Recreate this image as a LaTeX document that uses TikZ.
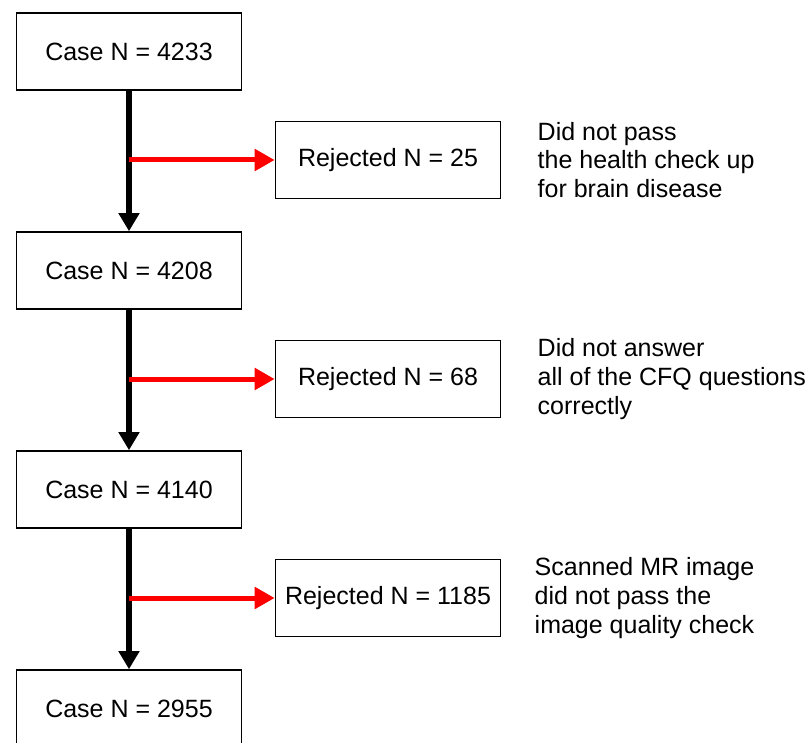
\documentclass[tikz,border=0pt]{standalone}
\usepackage{fontspec}
\setmainfont{Liberation Sans}
\usetikzlibrary{arrows.meta, calc, positioning}

\begin{document}
\begin{tikzpicture}[x=0.5pt, y=-0.5pt, node distance={109.5pt}, font=\fontsize{12.5pt}{14.4pt}\selectfont,
        case/.style = {draw, line width=0.8pt, minimum width=112.5pt, minimum height=38.5pt, inner sep=0pt},
        rej/.style = {case},
        note/.style = {align=left, inner sep=0pt},
        down/.style = {line width=3pt, -{Triangle[length=9pt, width=10pt]}},
        redarrow/.style = {red, line width=2.5pt, -{Triangle[length=10pt, width=10.5pt]}}]
        \useasboundingbox (0,0) rectangle (808,743);

        \node[case] (c1) at (129,51.5) {Case N = 4233};
        \node[case] (c2) [below of = c1] {Case N = 4208};
        \node[case] (c3) [below of = c2] {Case N = 4140};
        \node[case] (c4) [below of = c3] {Case N = 2955};

        \node[rej] (r1) at ($(c1)!0.5!(c2) + (259,-1)$) {Rejected N = 25};
        \node[rej] (r2) at ($(c2)!0.5!(c3) + (259,-1)$) {Rejected N = 68};
        \node[rej] (r3) at ($(c3)!0.5!(c4) + (259,-1)$) {Rejected N = 1185};

        \node[note] (n1) [right=18pt of r1] {Did not pass\\the health check up\\for brain disease};
        \node[note] (n2) [right=18pt of r2] {Did not answer\\all of the CFQ questions\\correctly};
        \node[note] (n3) [right=16.5pt of r3] {Scanned MR image\\did not pass the\\image quality check};

        \draw[down] (c1) -- (c2);
        \draw[down] (c2) -- (c3);
        \draw[down] (c3) -- (c4);

        \coordinate (b1) at (c1.south |- r1);
        \coordinate (b2) at (c2.south |- r2);
        \coordinate (b3) at (c3.south |- r3);
        \draw[redarrow] (b1) -- (r1);
        \draw[redarrow] (b2) -- (r2);
        \draw[redarrow] (b3) -- (r3);
    \end{tikzpicture}
\end{document}
